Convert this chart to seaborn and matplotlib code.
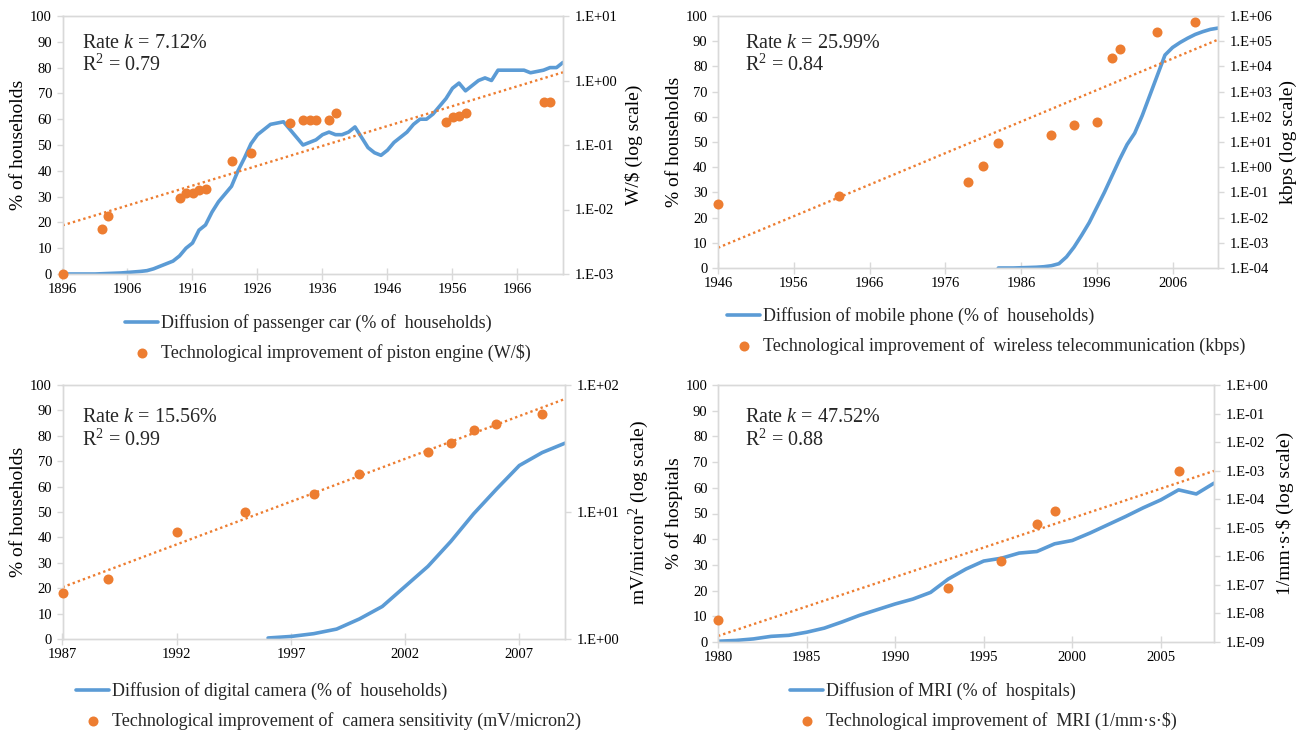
import numpy as np
import seaborn as sns
import matplotlib.pyplot as plt
from matplotlib.ticker import FixedLocator, FuncFormatter, NullLocator

# Colours (Office palette)
BLUE = "#5B9BD5"
ORANGE = "#ED7D31"
EDGE = "#D9D9D9"

# --- Passenger car / piston engine ---
car_years = list(range(1896, 1974))
car_share = [0, 0, 0, 0, 0, 0, 0.1, 0.2, 0.3, 0.4,
             0.6, 0.8, 1.0, 1.3, 2.0, 3.0, 4.0, 5.0, 7.0, 10.0,
             12.0, 17.0, 19.0, 24.0, 28.0, 31.0, 34.0, 40.0, 45.0, 50.5,
             54.0, 56.0, 58.0, 58.5, 59.0, 56.0, 53.0, 50.0, 51.0, 52.0,
             54.0, 55.0, 54.0, 54.0, 55.0, 57.0, 53.0, 49.0, 47.0, 46.0,
             48.0, 51.0, 53.0, 55.0, 58.0, 60.0, 60.0, 62.0, 65.0, 68.0,
             72.0, 74.0, 71.0, 73.0, 75.0, 76.0, 75.0, 79.0, 79.0, 79.0,
             79.0, 79.0, 78.0, 78.5, 79.0, 80.0, 80.0, 82.0]
engine_years = [1896, 1902, 1903, 1914, 1915, 1916, 1917, 1918, 1922, 1925, 1931,
                1933, 1934, 1935, 1937, 1938, 1955, 1956, 1957, 1958, 1970, 1971]
engine_wpd = [0.001, 0.0049, 0.0080, 0.0151, 0.0183, 0.018, 0.020, 0.021, 0.057, 0.076, 0.217,
              0.241, 0.24, 0.24, 0.24, 0.316, 0.227, 0.27, 0.28, 0.31, 0.46, 0.46]

# --- Mobile phone / wireless ---
phone_years = list(range(1983, 2013))
phone_share = [0, 0, 0, 0.1, 0.2, 0.3, 0.5, 0.9, 1.7, 4.4,
               8.3, 13.0, 18.0, 24.0, 30.0, 36.5, 43.0, 49.0, 53.5, 60.5,
               68.5, 76.5, 84.5, 87.5, 89.5, 91.2, 92.7, 93.8, 94.7, 95.2]
wireless_years = [1946, 1962, 1979, 1981, 1983, 1990, 1993, 1996, 1998, 1999, 2004, 2009]
wireless_kbps = [0.034, 0.071, 0.27, 1.1, 9.3, 18.7, 47, 62, 21400, 50000, 230000, 560000]

# --- Digital camera / sensitivity ---
camera_years = list(range(1996, 2010))
camera_share = [0.4, 1.0, 2.1, 3.9, 7.9, 12.8, 20.7, 28.6, 38.4, 49.3, 59.0, 68.3, 73.4, 77.1]
sens_years = [1987, 1989, 1992, 1995, 1998, 2000, 2003, 2004, 2005, 2006, 2008]
sens_values = [2.30, 2.98, 6.94, 9.97, 13.9, 20.0, 29.7, 34.8, 44.3, 49.3, 59.2]

# --- MRI ---
mri_years = list(range(1980, 2009))
mri_share = [0.3, 0.6, 1.2, 2.2, 2.6, 3.8, 5.4, 7.8, 10.4, 12.6,
             14.8, 16.7, 19.3, 24.5, 28.4, 31.5, 32.6, 34.6, 35.2, 38.2,
             39.5, 42.4, 45.6, 48.8, 52.2, 55.3, 59.2, 57.6, 61.8]
mri_tech_years = [1980, 1993, 1996, 1998, 1999, 2006]
mri_tech_values = [6.0e-9, 7.8e-8, 6.9e-7, 1.4e-5, 4.0e-5, 1.0e-3]

panels = [
    dict(years=car_years, share=car_share, tyears=engine_years, tvals=engine_wpd,
         xlim=(1896, 1973), xticks=list(range(1896, 1967, 10)), decades=(-3, 1),
         ylabel="% of households", rlabel="W/\\$ (log scale)",
         rate="7.12%", r2="0.79",
         leg=["Diffusion of passenger car (% of  households)",
              "Technological improvement of piston engine (W/\\$)"],
         rect=(62.5, 16, 563, 274), text_xy=(82, 43), leg_xy=(125, 314)),
    dict(years=phone_years, share=phone_share, tyears=wireless_years, tvals=wireless_kbps,
         xlim=(1946, 2012), xticks=list(range(1946, 2007, 10)), decades=(-4, 6),
         ylabel="% of households", rlabel="kbps (log scale)",
         rate="25.99%", r2="0.84",
         leg=["Diffusion of mobile phone (% of  households)",
              "Technological improvement of  wireless telecommunication (kbps)"],
         rect=(718, 16, 1218, 268), text_xy=(745, 43), leg_xy=(727, 307)),
    dict(years=camera_years, share=camera_share, tyears=sens_years, tvals=sens_values,
         xlim=(1987, 2009), xticks=list(range(1987, 2008, 5)), decades=(0, 2),
         ylabel="% of households", rlabel="mV/micron$^2$ (log scale)",
         rate="15.56%", r2="0.99",
         leg=["Diffusion of digital camera (% of  households)",
              "Technological improvement of  camera sensitivity (mV/micron2)"],
         rect=(62.5, 385, 565, 639), text_xy=(82, 418), leg_xy=(76, 682)),
    dict(years=mri_years, share=mri_share, tyears=mri_tech_years, tvals=mri_tech_values,
         xlim=(1980, 2008), xticks=list(range(1980, 2006, 5)), decades=(-9, 0),
         ylabel="% of hospitals", rlabel="1/mm·s·\\$ (log scale)",
         rate="47.52%", r2="0.88",
         leg=["Diffusion of MRI (% of  hospitals)",
              "Technological improvement of  MRI (1/mm·s·\\$)"],
         rect=(718, 385, 1214, 642), text_xy=(745, 418), leg_xy=(790, 682)),
]

sns.set_theme(style="white")
plt.rcParams["font.family"] = ["Liberation Serif", "DejaVu Serif"]
plt.rcParams["mathtext.fontset"] = "custom"
plt.rcParams["mathtext.rm"] = "Liberation Serif"
plt.rcParams["mathtext.it"] = "Liberation Serif:italic"

W, H = 1305, 732
fig = plt.figure(figsize=(W / 100, H / 100), dpi=100)


def exp_label(v, pos):
    return "1.E{:+03d}".format(int(round(np.log10(v))))


for p in panels:
    l, t, r, b = p["rect"]
    ax = fig.add_axes([l / W, 1 - b / H, (r - l) / W, (b - t) / H])
    ax2 = ax.twinx()
    ax2.set_yscale("log")

    sns.lineplot(x=p["years"], y=p["share"], ax=ax, color=BLUE, linewidth=2.6,
                 label=p["leg"][0], legend=False)

    # exponential trend line (least squares on log values, like Excel)
    slope, icpt = np.polyfit(p["tyears"], np.log10(p["tvals"]), 1)
    tx = np.array(p["xlim"], dtype=float)
    sns.lineplot(x=tx, y=10 ** (icpt + slope * tx), ax=ax2, color=ORANGE,
                 linewidth=1.7, linestyle=(0, (1, 1.3)), legend=False)
    sns.scatterplot(x=p["tyears"], y=p["tvals"], ax=ax2, color=ORANGE, s=52,
                    linewidth=0, label=p["leg"][1], legend=False, clip_on=False, zorder=5)

    ax.set_xlim(*p["xlim"])
    ax.set_ylim(0, 100)
    ax.set_yticks(range(0, 101, 10))
    ax.set_xticks(p["xticks"])
    lo, hi = p["decades"]
    ax2.set_ylim(10.0 ** lo, 10.0 ** hi)
    ax2.yaxis.set_major_locator(FixedLocator(10.0 ** np.arange(lo, hi + 1)))
    ax2.yaxis.set_minor_locator(NullLocator())
    ax2.yaxis.set_major_formatter(FuncFormatter(exp_label))

    for a in (ax, ax2):
        for s in a.spines.values():
            s.set_color(EDGE)
            s.set_linewidth(1.0)
        a.tick_params(length=4, width=1, color=EDGE, labelsize=10.5,
                      labelcolor="black", pad=3.5)
    ax.tick_params(axis="x", bottom=True, direction="inout", length=9, pad=2)
    ax.tick_params(axis="y", left=True)
    ax2.tick_params(axis="y", right=True, pad=4.5)

    ax.set_xlabel("")
    ax.set_ylabel(p["ylabel"], fontsize=14, labelpad=2, color="black")
    ax2.set_ylabel(p["rlabel"], fontsize=14, labelpad=5, color="black")

    tx0, ty0 = p["text_xy"]
    fig.text(tx0 / W, 1 - ty0 / H, "Rate $k$ = " + p["rate"], fontsize=14.5,
             va="center", ha="left")
    fig.text(tx0 / W, 1 - (ty0 + 22) / H, "R$^2$ = " + p["r2"], fontsize=14.5,
             va="center", ha="left")

    h1, l1 = ax.get_legend_handles_labels()
    h2, l2 = ax2.get_legend_handles_labels()
    lx, ly = p["leg_xy"]
    ax2.legend(h1 + h2, l1 + l2, loc="upper left",
               bbox_to_anchor=(lx / W, 1 - ly / H), bbox_transform=fig.transFigure,
               frameon=False, fontsize=13, borderpad=0, borderaxespad=0,
               handlelength=1.85, handletextpad=0.15, labelspacing=0.65,
               scatterpoints=1)

fig.savefig("out.png", dpi=100)
